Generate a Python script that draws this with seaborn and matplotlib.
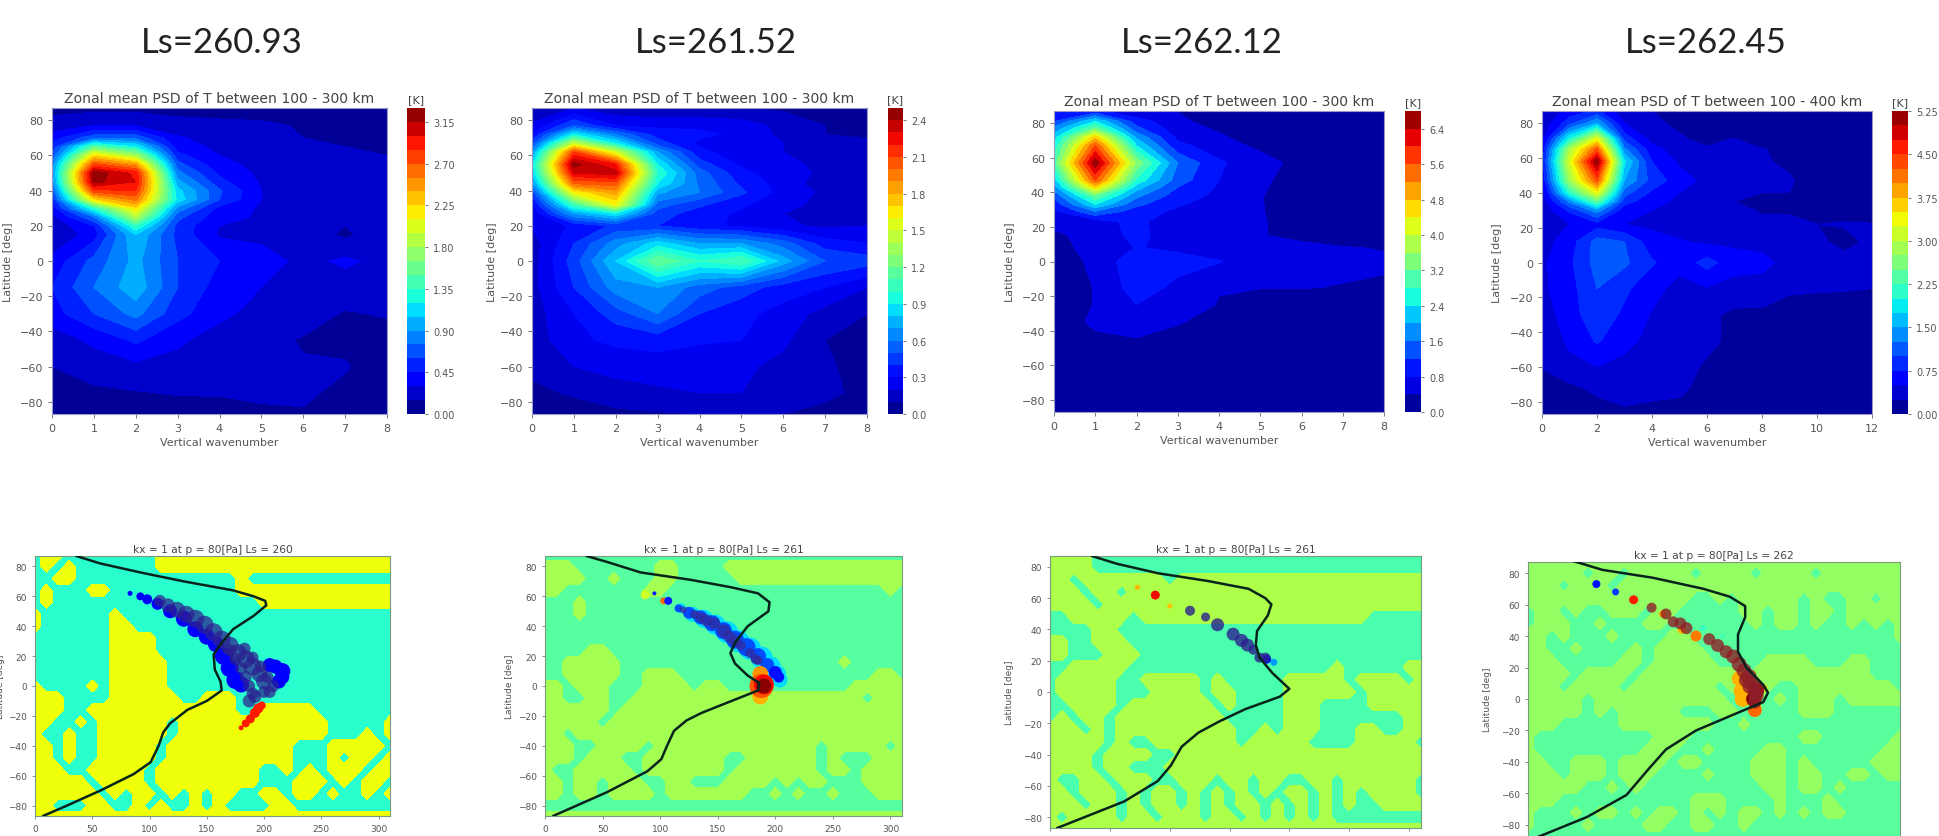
import numpy as np
import pandas as pd
import matplotlib
matplotlib.use("Agg")
import matplotlib.pyplot as plt
import seaborn as sns

# big headings
ls_heads = ["Ls=260.93", "Ls=261.52", "Ls=262.12", "Ls=262.45"]

# top row: PSD, rows south to north, columns = wavenumber
psd_titles = ["Zonal mean PSD of T between 100 - 300 km"] * 3 + ["Zonal mean PSD of T between 100 - 400 km"]
k_8 = [0, 1, 2, 3, 4, 5, 6, 7, 8]
k_12 = [0, 1, 2, 3, 4, 5, 6, 7, 8, 9, 10, 11, 12]

lat_1 = [-87, -75, -60, -45, -30, -15, 0, 15, 20, 25, 30, 35, 40, 45, 50, 55, 60, 65, 70, 77, 87]
psd_1 = [
    [.05, .08, .08, .08, .10, .12, .14, .10, .05],
    [.08, .12, .14, .16, .16, .18, .17, .12, .05],
    [.15, .22, .26, .24, .22, .18, .16, .16, .08],
    [.22, .33, .48, .33, .22, .19, .14, .12, .10],
    [.38, .60, .80, .50, .34, .24, .20, .14, .16],
    [.45, .75, 1.0, .60, .38, .30, .26, .22, .20],
    [.35, .65, .95, .60, .45, .38, .25, .33, .25],
    [.15, .38, 1.05, .55, .28, .25, .24, .12, .25],
    [.18, .45, 1.35, .55, .30, .26, .28, .15, .25],
    [.25, .75, 1.85, .65, .35, .28, .26, .25, .25],
    [.35, 1.3, 2.2, .85, .40, .28, .24, .24, .22],
    [.50, 2.2, 2.6, 1.15, .60, .30, .24, .24, .18],
    [.65, 2.8, 2.85, 1.10, .62, .30, .22, .22, .18],
    [.80, 3.2, 3.0, .95, .50, .28, .22, .20, .18],
    [.85, 3.25, 2.95, .80, .42, .26, .22, .20, .18],
    [.80, 2.75, 2.45, .65, .35, .25, .20, .18, .15],
    [.62, 2.2, 1.8, .50, .30, .24, .20, .18, .15],
    [.50, 1.5, 1.2, .38, .26, .20, .18, .15, .12],
    [.38, .70, .70, .32, .22, .18, .15, .12, .12],
    [.22, .30, .30, .20, .18, .17, .14, .10, .08],
    [.10, .10, .10, .10, .10, .10, .08, .05, .05],
]

lat_2 = [-87, -75, -60, -45, -30, -15, 0, 10, 20, 27, 32, 39, 44, 50, 55, 62, 67, 72, 77, 87]
psd_2 = [
    [.04, .06, .08, .09, .10, .11, .10, .05, .03],
    [.08, .11, .15, .18, .20, .20, .18, .14, .05],
    [.12, .20, .24, .25, .25, .22, .17, .12, .05],
    [.14, .28, .32, .34, .31, .30, .22, .10, .08],
    [.15, .30, .45, .60, .40, .33, .26, .16, .10],
    [.16, .40, .65, .70, .55, .45, .35, .30, .20],
    [.15, .45, .80, 1.2, 1.0, 1.1, .75, .50, .45],
    [.15, .40, .65, .85, .70, .70, .55, .35, .30],
    [.20, .32, .42, .40, .33, .28, .22, .18, .20],
    [.22, .70, .90, .45, .35, .28, .20, .18, .18],
    [.28, 1.05, 1.6, .55, .42, .32, .22, .18, .16],
    [.45, 1.6, 1.85, .72, .60, .42, .26, .18, .12],
    [.65, 2.0, 2.05, .90, .58, .38, .25, .15, .10],
    [.80, 2.3, 2.35, 1.0, .55, .33, .24, .18, .15],
    [.85, 2.45, 2.2, .90, .45, .28, .22, .18, .18],
    [.65, 2.1, 1.5, .70, .33, .24, .20, .18, .15],
    [.45, 1.45, .90, .45, .28, .24, .20, .16, .12],
    [.30, .90, .60, .35, .32, .28, .17, .10, .08],
    [.22, .50, .30, .28, .28, .25, .17, .10, .08],
    [.10, .20, .12, .10, .10, .10, .08, .05, .05],
]

lat_3 = [-87, -60, -45, -35, -25, -15, 0, 8, 15, 23, 29, 33, 38, 43, 47, 57, 67, 72, 77, 81, 87]
psd_3 = [
    [.05, .05, .05, .05, .05, .05, .05, .05, .05],
    [.05, .10, .15, .10, .05, .05, .05, .05, .05],
    [.10, .30, .38, .30, .10, .05, .05, .05, .05],
    [.10, .50, .60, .42, .30, .08, .05, .05, .05],
    [.10, .42, .80, .60, .38, .10, .08, .05, .05],
    [.10, .42, 1.0, .70, .42, .42, .42, .38, .35],
    [.20, .48, 1.1, .95, .82, .60, .55, .50, .45],
    [.30, .50, .82, .72, .60, .55, .50, .42, .38],
    [.36, .48, .95, .50, .45, .42, .30, .20, .10],
    [.45, .60, .95, .42, .50, .42, .30, .20, .10],
    [.70, 1.6, 1.0, .72, .55, .42, .22, .10, .05],
    [.95, 2.4, 1.3, .85, .60, .42, .20, .08, .05],
    [1.3, 3.2, 1.7, 1.0, .70, .42, .20, .08, .05],
    [1.8, 4.6, 2.2, 1.2, .75, .45, .20, .05, .05],
    [2.2, 5.6, 2.7, 1.4, .80, .48, .20, .05, .05],
    [3.0, 6.7, 3.5, 1.6, .85, .58, .25, .05, .05],
    [2.5, 5.6, 2.4, .90, .60, .30, .05, .05, .05],
    [2.2, 4.6, 1.9, .70, .45, .20, .10, .05, .05],
    [1.7, 3.2, 1.3, .55, .35, .10, .05, .05, .05],
    [1.2, 2.4, 1.0, .50, .20, .10, .05, .05, .05],
    [.80, .90, .45, .38, .10, .05, .05, .05, .05],
]

lat_4 = [-87, -72, -60, -45, -30, -15, 0, 12, 22, 30, 35, 40, 47, 58, 65, 71, 80, 87]
psd_4 = [
    [.05, .10, .15, .22, .20, .20, .08, .05, .03, .02, .02, .02, .02],
    [.15, .20, .30, .32, .30, .28, .20, .10, .05, .03, .02, .02, .02],
    [.26, .42, .50, .42, .38, .33, .22, .10, .05, .03, .02, .02, .02],
    [.30, .55, .78, .58, .42, .40, .30, .20, .10, .05, .03, .02, .02],
    [.35, .65, .90, .70, .48, .42, .30, .20, .20, .10, .10, .08, .08],
    [.45, .65, 1.0, .80, .58, .42, .48, .40, .38, .30, .28, .27, .25],
    [.45, .70, 1.1, 1.05, .78, .58, .85, .60, .58, .40, .35, .33, .33],
    [.40, .62, 1.1, 1.0, .60, .52, .45, .45, .40, .35, .30, .18, .30],
    [.30, .50, .65, .50, .45, .38, .35, .30, .27, .27, .25, .27, .26],
    [.32, .80, 1.4, .60, .50, .42, .35, .28, .24, .24, .20, .15, .12],
    [.34, 1.3, 2.4, .85, .58, .45, .35, .25, .22, .22, .18, .12, .10],
    [.35, 2.1, 3.3, 1.1, .70, .50, .36, .30, .25, .25, .14, .06, .05],
    [.50, 2.8, 4.3, 1.5, .90, .62, .42, .34, .32, .28, .10, .05, .05],
    [.65, 3.2, 5.2, 1.8, .75, .45, .30, .32, .28, .20, .10, .05, .05],
    [.55, 2.9, 4.3, 1.3, .60, .35, .28, .30, .26, .20, .08, .03, .03],
    [.40, 2.0, 3.3, .90, .40, .28, .18, .26, .10, .05, .03, .03, .03],
    [.30, .90, 1.5, .50, .30, .20, .10, .08, .05, .03, .03, .03, .03],
    [.25, .60, .80, .30, .25, .10, .05, .03, .03, .03, .03, .03, .03],
]

top_step = [.15, .1, .4, .25]
top_max = [3.3, 2.5, 6.8, 5.25]
cbar_ticks = [
    [0, .45, .9, 1.35, 1.8, 2.25, 2.7, 3.15],
    [0, .3, .6, .9, 1.2, 1.5, 1.8, 2.1, 2.4],
    [0, .8, 1.6, 2.4, 3.2, 4.0, 4.8, 5.6, 6.4],
    [0, .75, 1.5, 2.25, 3.0, 3.75, 4.5, 5.25],
]
cbar_fmt = ["%.2f", "%.1f", "%.1f", "%.2f"]

# bottom row: wave field, two bins ('#' = upper bin), lon 0,10..310, lat 88,80..-88
wave_lat = list(range(88, -89, -8))
wave_lon = list(range(0, 320, 10))
wave_1 = [
    ".##........#####################",
    ".#.#.......#####################",
    "..##..............#.............",
    ".#...##...........##############",
    ".#..................############",
    "#......#........................",
    "#......##.......................",
    ".......####.....................",
    ".......####.....................",
    ".......#####....................",
    ".......#####....................",
    "#....#.#####....................",
    "###....######..###..............",
    "###..#############..#####.......",
    "##..#.######.#############.....#",
    "#..#..######.#############...#.#",
    "##.#..#####.###########...#####.",
    "##.#..#####.###########...#.##.#",
    "###..#####.#########..#.#.###.##",
    "#####.####.#########...###.#.##.",
    "######.#.##.#.#.##..##.##.#..#.#",
    "##...##..#.#..#.#....##.........",
    "################################",
]
wave_2 = [
    "................................",
    "###.......##....################",
    "####..#...##.....###############",
    "##.......##...................#.",
    "...#............................",
    "...#............................",
    "................................",
    "................................",
    "....##..........................",
    "..#####...................#.....",
    "..#####..###.................##.",
    "##.###...####.##...........#####",
    "##..##..####################.###",
    "######.#########################",
    "#####.##########################",
    "##.#############################",
    "###..####.##############.#####.#",
    "###.###..#######..######.#...###",
    "#..#####.#######.#######.##.####",
    "##.##.###..##...####.#.##...####",
    "##.##.####.#######..#.#..#...###",
    "................................",
    "################################",
]
wave_3 = [
    "####............................",
    "####............................",
    "##.#######.#####################",
    "###.##.#########################",
    "####.###########################",
    "..#####.###################.....",
    "....##..........................",
    "##..###.........................",
    "##...###........................",
    "..#####.................#.....##",
    ".#####..#####.#.....#####.####.#",
    ".#####...####.##....######.#####",
    "..####.#######.#....###....#####",
    ".#.##.#########.....###.......##",
    "###.#.##########..#.###...##..##",
    "#####.#..#######.#####....#####.",
    "####.####..#####################",
    "####.##...######################",
    "#..##.###..###.##.##..##.######.",
    "##.###.#.##.#.#.#.#.##.#.#.####.",
    "###.##.#.##.#.#.##.#.#.#.#..####",
    "#.####.##.###.##.#.#.#.#........",
    "################################",
]
wave_4 = [
    "################################",
    "#####.##.#####.####.####.#######",
    "###.###.########################",
    "##############..#.#####.#..##.##",
    ".##.#..###.##.....##.##.##.#####",
    ".###..#...##.......#.##.#..#.#.#",
    "##.#...#....##.................#",
    "##..#....#.####.................",
    "###.....##.#####....####...##...",
    "####.####.########.##########...",
    "###.####.#######.#.##..########.",
    "#####.###########..#.#.###.#####",
    "#####.#.#####...##.#...###......",
    "###.....########..#.............",
    "#..........###.........##......#",
    "#.........###..#....##........##",
    "##..###.####.##....###.#.....###",
    "###.###.###....#...###.##..##.##",
    "#####..#.#..........##.##.#.....",
    "###...........###....#...#......",
    "#...#.##.#.##.#.#.##.#.#.##.....",
    "#....#....##..##..#.............",
    "................................",
]
wave_bins = [(.40, .64), (.455, .55), (.44, .56), (.46, .53)]
wave_titles = [
    "kx = 1 at p = 80[Pa] Ls = 260",
    "kx = 1 at p = 80[Pa] Ls = 261",
    "kx = 1 at p = 80[Pa] Ls = 261",
    "kx = 1 at p = 80[Pa] Ls = 262",
]

# black profile line
line_lon_1 = [36, 57, 92, 130, 173, 191, 201, 202, 191, 173, 162, 156, 157, 162, 163, 150, 133, 118, 112, 108, 101, 86, 57, 28, 7]
line_lat_1 = [87, 82, 76, 70, 64, 60, 57, 54, 47, 38, 28, 21, 11, 3, -3, -10, -16, -25, -31, -40, -51, -59, -70, -80, -87]
line_lon_2 = [36, 54, 83, 127, 162, 185, 195, 194, 176, 165, 161, 165, 176, 186, 185, 162, 136, 123, 112, 106, 101, 89, 54, 7]
line_lat_2 = [87, 83, 76, 71, 66, 62, 56, 50, 40, 29, 22, 15, 7, 2, -3, -10, -18, -23, -30, -40, -49, -57, -71, -87]
line_lon_3 = [35, 56, 90, 132, 166, 180, 185, 182, 173, 172, 175, 186, 200, 192, 163, 141, 124, 110, 101, 90, 62, 6]
line_lat_3 = [87, 82, 76, 71, 66, 60, 56, 49, 39, 30, 22, 12, 2, -3, -11, -19, -26, -35, -47, -57, -70, -87]
line_lon_4 = [36, 62, 104, 146, 168, 181, 181, 175, 175, 182, 196, 200, 196, 174, 140, 115, 101, 82, 49, 7]
line_lat_4 = [88, 82, 77, 70, 65, 59, 52, 41, 30, 20, 9, 4, -2, -9, -20, -32, -44, -61, -75, -88]

# saturated patches of the wave field (lon, lat, diameter in px, jet value)
blob_1 = {
    "lon": [83, 92, 98, 107, 118, 130, 140, 150, 158, 165, 170, 175, 180, 216, 216, 210, 213, 205, 198, 195, 192, 188, 184, 180],
    "lat": [62, 60, 58, 55, 50, 45, 38, 33, 28, 20, 12, 4, 1, 6, 10, 13, 3, 14, -13, -15, -18, -22, -25, -28],
    "d": [5, 8, 10, 12, 14, 16, 16, 16, 16, 18, 18, 18, 16, 14, 16, 14, 14, 14, 8, 10, 10, 9, 8, 5],
    "val": [.11] * 18 + [.88] * 6,
}
blob_2 = {
    "lon": [87, 103, 95, 107, 118, 128, 138, 148, 158, 168, 178, 188, 196, 202, 204, 116, 125, 135, 145, 155, 165, 175, 185, 193, 200, 203, 187, 187, 188, 190, 190],
    "lat": [61, 57, 62, 57, 52, 48, 45, 41, 36, 30, 25, 19, 13, 8, 4, 52, 49, 46, 42, 37, 31, 26, 20, 14, 9, 6, 8, -7, 0, 1, 0],
    "d": [9, 7, 4, 8, 10, 15, 18, 20, 22, 22, 22, 22, 20, 17, 15, 8, 12, 14, 16, 17, 18, 18, 16, 14, 13, 11, 16, 16, 24, 20, 15],
    "val": [.6, .8, .15, .15, .34, .34, .34, .34, .34, .34, .34, .34, .34, .34, .34, .2, .2, .2, .2, .2, .2, .2, .2, .2, .14, .14, .75, .72, .82, .9, .99],
}
blob_3 = {
    "lon": [73, 100, 88, 187, 181],
    "lat": [67, 55, 62, 19, 21],
    "d": [5, 5, 9, 7, 9],
    "val": [.72, .7, .9, .28, .14],
}
blob_4 = {
    "lon": [57, 73, 88, 112, 128, 140, 146, 162, 176, 178, 179, 189, 196, 190, 188],
    "lat": [73, 68, 63, 54, 44, 40, 45, 40, 13, 5, 0, -7, 7, 5, 0],
    "d": [8, 7, 9, 7, 8, 11, 6, 4, 15, 16, 16, 14, 8, 16, 15],
    "val": [.14, .18, .88, .72, .72, .78, .42, .42, .72, .72, .72, .8, .72, .99, .99],
}

# translucent dots on top (lon, lat, diameter in px)
dot_lon_1 = [109, 116, 124, 132, 140, 148, 156, 163, 170, 177, 184, 190, 196, 200, 170, 175, 180, 184, 187, 190, 183, 190, 197, 203, 208, 205, 187, 192, 200]
dot_lat_1 = [57, 54, 51, 48, 45, 41, 36, 31, 27, 22, 18, 13, 8, 3, 24, 18, 12, 6, 0, -5, 25, 19, 13, 6, 0, -4, -10, -7, -4]
dot_d_1 = [12, 14, 16, 17, 18, 18, 18, 18, 18, 18, 18, 18, 16, 16, 12, 12, 12, 12, 12, 12, 12, 12, 12, 12, 12, 12, 13, 13, 12]
dot_lon_2 = [120, 130, 135, 140, 147, 155, 160, 165, 170, 178, 183, 185]
dot_lat_2 = [51, 48, 46, 44, 42, 37, 33, 30, 27, 22, 18, 17]
dot_d_2 = [7, 9, 10, 12, 12, 13, 12, 12, 10, 10, 10, 9]
dot_lon_3 = [117, 130, 140, 153, 160, 165, 170, 175, 180]
dot_lat_3 = [52, 48, 43, 37, 33, 30, 27, 22, 22]
dot_d_3 = [10, 9, 13, 13, 13, 13, 10, 10, 10]
dot_lon_4 = [103, 115, 121, 127, 132, 151, 158, 165, 171, 176, 180, 184, 187, 190, 190, 189, 185, 182]
dot_lat_4 = [58, 54, 49, 48, 45, 38, 34, 30, 27, 22, 18, 14, 10, 6, 2, -2, 8, 12]
dot_d_4 = [10, 11, 11, 12, 12, 12, 13, 13, 14, 15, 15, 16, 16, 16, 15, 13, 15, 15]
dot_colors = ["#2c2090", "#352a98", "#2c2090", "#8e1f28"]
dot_alpha = [.72, .72, .8, .8]

x_ticks = [0, 50, 100, 150, 200, 250, 300]
y_ticks = [-80, -60, -40, -20, 0, 20, 40, 60, 80]

W, H = 1939, 837
sns.set_style("ticks")
plt.rcParams["font.family"] = "DejaVu Sans"
plt.rcParams["text.color"] = "#444444"
plt.rcParams["axes.labelcolor"] = "#555555"
plt.rcParams["xtick.labelcolor"] = "#555555"
plt.rcParams["ytick.labelcolor"] = "#555555"

fig = plt.figure(figsize=(W / 100, H / 100), dpi=100)


def px_axes(x0, y0, x1, y1):
    return fig.add_axes([x0 / W, 1 - y1 / H, (x1 - x0) / W, (y1 - y0) / H])


# pixel boxes of the panels
top_boxes = [(52, 109, 387, 415), (532, 109, 867, 415), (1054, 112, 1384, 413), (1542, 112, 1872, 415)]
cbar_boxes = [(407, 109, 425, 415), (888, 109, 903, 415), (1405, 112, 1421, 413), (1892, 112, 1908, 415)]
bot_boxes = [(35, 557, 390, 817), (545, 557, 902, 817), (1050, 557, 1421, 829), (1528, 563, 1900, 837)]
head_x = [222, 716, 1202, 1706]
ylab_top = [8, 492, 1010, 1497]
ylab_bot = [1, 510, 1010, 1487]

jet = plt.get_cmap("jet")

tops = [(k_8, lat_1, psd_1), (k_8, lat_2, psd_2), (k_8, lat_3, psd_3), (k_12, lat_4, psd_4)]
bots = [
    (wave_1, line_lon_1, line_lat_1, blob_1, dot_lon_1, dot_lat_1, dot_d_1),
    (wave_2, line_lon_2, line_lat_2, blob_2, dot_lon_2, dot_lat_2, dot_d_2),
    (wave_3, line_lon_3, line_lat_3, blob_3, dot_lon_3, dot_lat_3, dot_d_3),
    (wave_4, line_lon_4, line_lat_4, blob_4, dot_lon_4, dot_lat_4, dot_d_4),
]

for i in range(4):
    fig.text(head_x[i] / W, 1 - 43 / H, ls_heads[i], ha="center", va="center",
             fontsize=25, family="Lato", color="#222222")

    # top: PSD contours
    k, lat, psd = tops[i]
    ax = px_axes(*top_boxes[i])
    levels = np.arange(0, top_max[i] + top_step[i] / 2, top_step[i])
    cf = ax.contourf(k, lat, np.array(psd), levels=levels, cmap="jet")
    ax.set_xlim(k[0], k[-1])
    ax.set_ylim(-87, 87)
    ax.set_xticks(k[::2] if len(k) > 9 else k)
    ax.set_yticks(y_ticks)
    ax.tick_params(labelsize=8, length=3, width=.7, color="#777777")
    ax.set_title(psd_titles[i], fontsize=10.1, pad=4)
    ax.set_xlabel("Vertical wavenumber", fontsize=8, labelpad=3)
    fig.text(ylab_top[i] / W, 1 - (top_boxes[i][1] + top_boxes[i][3]) / 2 / H, "Latitude [deg]",
             rotation=90, ha="center", va="center", fontsize=8, color="#555555")
    for s in ax.spines.values():
        s.set_color("#9a9ac8")
        s.set_linewidth(.8)

    cax = px_axes(*cbar_boxes[i])
    cb = fig.colorbar(cf, cax=cax, ticks=cbar_ticks[i], format=cbar_fmt[i], drawedges=False)
    cb.ax.tick_params(labelsize=7, length=2.5, width=.7, color="#777777")
    cb.outline.set_visible(False)
    cax.set_title("[K]", fontsize=8, pad=4)

    # bottom: wave field, patches, dots, profile
    wave, l_lon, l_lat, blob, d_lon, d_lat, d_px = bots[i]
    ax = px_axes(*bot_boxes[i])
    field = np.array([[1.0 if c == "#" else 0.0 for c in row.ljust(32, ".")[:32]] for row in wave])
    ax.contourf(wave_lon, wave_lat, field, levels=[-.5, .5, 1.5],
                colors=[jet(wave_bins[i][0]), jet(wave_bins[i][1])])
    blob_df = pd.DataFrame(blob)
    sns.scatterplot(data=blob_df, x="lon", y="lat", hue="val", palette=jet, hue_norm=(0, 1),
                    s=(blob_df["d"] * .72) ** 2, linewidth=0, legend=False, ax=ax, zorder=3)
    sns.scatterplot(x=d_lon, y=d_lat, s=(np.array(d_px) * .72) ** 2, color=dot_colors[i],
                    alpha=dot_alpha[i], linewidth=0, ax=ax, zorder=4)
    line_df = pd.DataFrame({"lon": l_lon, "lat": l_lat})
    # estimator=None or seaborn averages repeated lon values
    sns.lineplot(data=line_df, x="lon", y="lat", sort=False, estimator=None, color="#06241c", lw=1.8, ax=ax, zorder=5)
    ax.set_xlim(0, 310)
    ax.set_ylim(-87, 87)
    ax.set_xticks(x_ticks)
    ax.set_yticks(y_ticks)
    ax.tick_params(labelsize=6.5, length=2.5, width=.6, color="#777777")
    ax.set_title(wave_titles[i], fontsize=7.7, pad=3)
    ax.set_xlabel("")
    ax.set_ylabel("")
    fig.text(ylab_bot[i] / W, 1 - (bot_boxes[i][1] + bot_boxes[i][3]) / 2 / H, "Latitude [deg]",
             rotation=90, ha="center", va="center", fontsize=6.5, color="#555555")
    for s in ax.spines.values():
        s.set_color("#7a9a80")
        s.set_linewidth(.8)

fig.savefig("out.png", dpi=100)
plt.close()
